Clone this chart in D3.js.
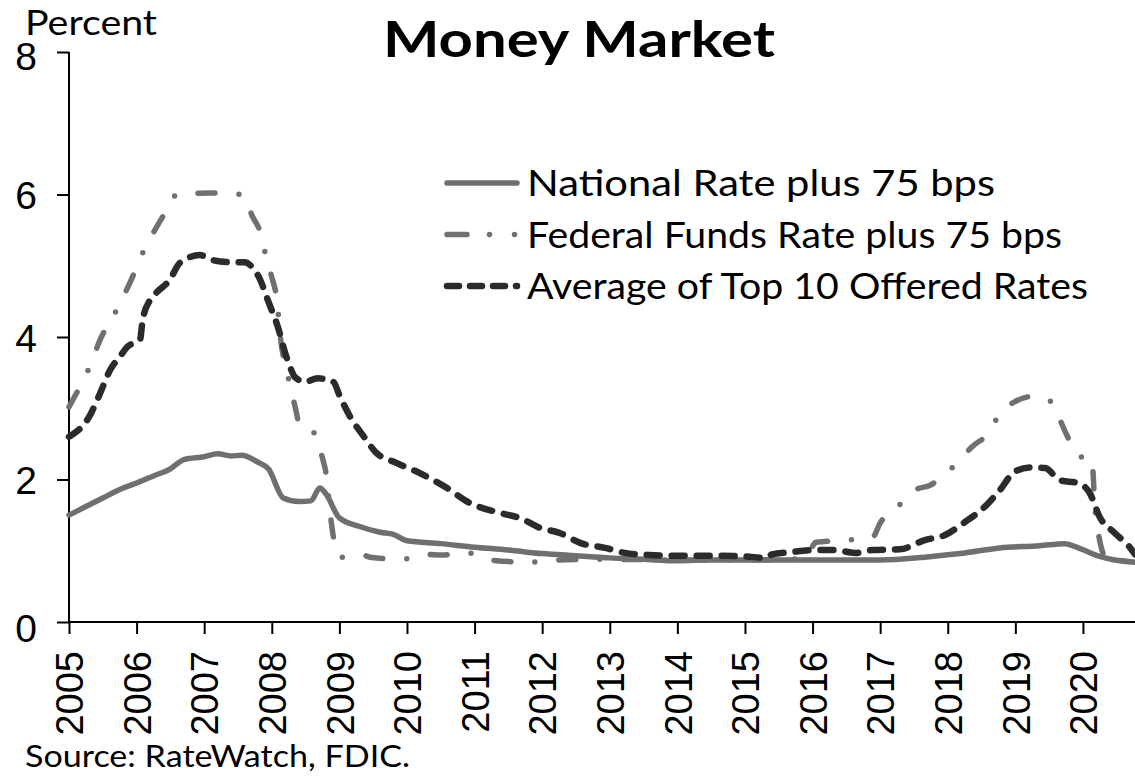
<!DOCTYPE html>
<html>
<head>
<meta charset="utf-8">
<script src="https://cdn.jsdelivr.net/npm/d3@7"></script>
<style>
  body { margin: 0; background: #fff; }
  svg { display: block; font-family: Lato, "Open Sans", sans-serif; }
</style>
</head>
<body>
<svg id="chart" width="1135" height="776"></svg>
<script>
// Series data, [decimal year, percent]
const nationalRate = [
  [2005.0, 1.50], [2005.25, 1.62], [2005.5, 1.74], [2005.75, 1.86], [2006.0, 1.95],
  [2006.25, 2.05], [2006.5, 2.15], [2006.7, 2.28], [2007.0, 2.32], [2007.2, 2.36],
  [2007.4, 2.33], [2007.55, 2.34], [2007.8, 2.24], [2007.95, 2.15], [2008.17, 1.74],
  [2008.4, 1.69], [2008.58, 1.70], [2008.71, 1.88], [2008.8, 1.80], [2009.0, 1.46],
  [2009.3, 1.34], [2009.6, 1.26], [2009.8, 1.23], [2010.0, 1.14], [2010.5, 1.10],
  [2011.0, 1.05], [2011.5, 1.01], [2012.0, 0.96], [2012.5, 0.93], [2013.0, 0.90],
  [2013.5, 0.88], [2014.0, 0.86], [2014.5, 0.87], [2015.0, 0.87], [2015.5, 0.87],
  [2016.0, 0.87], [2016.5, 0.87], [2017.0, 0.87], [2017.66, 0.91], [2018.18, 0.96],
  [2018.77, 1.04], [2019.36, 1.07], [2019.73, 1.10], [2019.96, 1.03], [2020.25, 0.92],
  [2020.47, 0.87], [2020.77, 0.84]
];

const fedFundsRate = [
  [2005.0, 3.02], [2005.16, 3.30], [2005.3, 3.57], [2005.46, 3.96], [2005.71, 4.39],
  [2005.9, 4.76], [2006.12, 5.24], [2006.3, 5.55], [2006.42, 5.74], [2006.6, 6.00],
  [2007.09, 6.02], [2007.56, 6.00], [2007.72, 5.68], [2007.83, 5.47], [2007.91, 5.15],
  [2008.0, 4.84], [2008.07, 4.56], [2008.14, 3.90], [2008.2, 3.60], [2008.27, 3.33],
  [2008.35, 3.00], [2008.42, 2.74], [2008.6, 2.68], [2008.75, 2.30], [2008.8, 2.10],
  [2008.88, 1.40], [2008.92, 1.15], [2009.02, 0.91], [2009.35, 0.94], [2009.45, 0.91],
  [2009.93, 0.88], [2010.27, 0.95], [2010.53, 0.94], [2010.89, 0.97], [2011.23, 0.87],
  [2011.82, 0.84], [2012.19, 0.87], [2013.0, 0.88], [2014.0, 0.87], [2015.0, 0.87],
  [2015.85, 0.89], [2015.95, 0.98], [2016.05, 1.12], [2016.52, 1.15], [2016.89, 1.19],
  [2017.0, 1.39], [2017.25, 1.61], [2017.51, 1.85], [2017.74, 1.92], [2017.97, 2.08],
  [2018.22, 2.32], [2018.36, 2.46], [2018.62, 2.67], [2018.77, 2.93], [2018.99, 3.09],
  [2019.29, 3.17], [2019.56, 3.07], [2019.66, 2.84], [2019.81, 2.53], [2019.96, 2.32],
  [2020.13, 2.30], [2020.18, 1.57], [2020.22, 1.29], [2020.33, 0.92], [2020.55, 0.86],
  [2020.77, 0.85]
];

const top10Rate = [
  [2005.0, 2.60], [2005.31, 2.90], [2005.46, 3.21], [2005.61, 3.54], [2005.75, 3.72],
  [2005.86, 3.86], [2006.05, 3.96], [2006.09, 4.24], [2006.2, 4.52], [2006.3, 4.63],
  [2006.49, 4.80], [2006.64, 5.04], [2006.94, 5.15], [2007.12, 5.08], [2007.38, 5.05],
  [2007.6, 5.05], [2007.71, 4.98], [2007.83, 4.80], [2007.94, 4.52], [2008.09, 4.14],
  [2008.2, 3.77], [2008.27, 3.58], [2008.34, 3.44], [2008.49, 3.37], [2008.68, 3.42],
  [2008.91, 3.37], [2009.01, 3.16], [2009.16, 2.88], [2009.38, 2.58], [2009.53, 2.39],
  [2009.85, 2.23], [2010.19, 2.09], [2010.56, 1.90], [2010.93, 1.67], [2011.38, 1.53],
  [2011.67, 1.46], [2011.97, 1.32], [2012.26, 1.25], [2012.56, 1.11], [2012.93, 1.04],
  [2013.22, 0.97], [2013.59, 0.94], [2014.0, 0.93], [2014.5, 0.93], [2015.0, 0.92],
  [2015.3, 0.90], [2015.4, 0.95], [2015.67, 0.98], [2016.04, 1.01], [2016.33, 1.01],
  [2016.63, 0.97], [2016.89, 1.01], [2017.29, 1.02], [2017.66, 1.15], [2017.96, 1.22],
  [2018.25, 1.40], [2018.55, 1.62], [2018.77, 1.85], [2018.99, 2.11], [2019.22, 2.17],
  [2019.44, 2.16], [2019.66, 1.99], [2019.93, 1.95], [2020.1, 1.81], [2020.25, 1.47],
  [2020.47, 1.25], [2020.7, 1.04], [2020.77, 0.95]
];

const yearTicks = d3.range(2005, 2021);
const percentTicks = [0, 2, 4, 6, 8];
const legendLabels = [
  'National Rate plus 75 bps',
  'Federal Funds Rate plus 75 bps',
  'Average of Top 10 Offered Rates'
];

const svg = d3.select('#chart');
const margin = { left: 69, right: 0, top: 52, bottom: 154 };
const width = 1135, height = 776;

const x = d3.scaleLinear()
  .domain([2005, 2020.77])
  .range([margin.left, width - margin.right]);

const y = d3.scaleLinear()
  .domain([0, 8])
  .range([height - margin.bottom, margin.top]);

// the reference text is a bit wider than Lato, so stretch to measured widths
function fitText(sel, w) {
  sel.attr('textLength', w).attr('lengthAdjust', 'spacingAndGlyphs');
}

// Axes
const yAxis = svg.append('g')
  .attr('transform', `translate(${margin.left},0)`)
  .call(d3.axisLeft(y).tickValues(percentTicks).tickSize(12).tickPadding(20).tickFormat(d3.format('d')));

yAxis.selectAll('text').attr('font-size', 39).attr('fill', '#000')
  .attr('dy', (d) => d === 0 ? '0.5em' : (d === 8 ? '0.45em' : '0.36em'));

const xAxis = svg.append('g')
  .attr('transform', `translate(0,${y(0)})`)
  .call(d3.axisBottom(x).tickValues(yearTicks).tickSize(12).tickFormat(d3.format('d')));

xAxis.selectAll('text')
  .attr('font-size', 38)
  .attr('fill', '#000')
  .attr('transform', 'rotate(-90)')
  .attr('text-anchor', 'end')
  .attr('x', -29)
  .attr('y', 0)
  .attr('dy', '0.36em');

svg.selectAll('.domain, .tick line').attr('stroke', '#000').attr('stroke-width', 2);
xAxis.select('.domain').attr('d', `M${x(2005)},0H${width}`);
yAxis.select('.domain').attr('d', `M0,${y(8)}V${y(0)}`);

// Lines
const line = d3.line()
  .x((d) => x(d[0]))
  .y((d) => y(d[1]))
  .curve(d3.curveMonotoneX);

const series = [
  { data: nationalRate, color: '#6f6f6f', width: 5.5, dash: null },
  { data: fedFundsRate, color: '#707070', width: 5.5, dash: '17 24 0 24' },
  { data: top10Rate, color: '#2b2b2b', width: 6.5, dash: '13 12' }
];

svg.append('g')
  .selectAll('path')
  .data(series)
  .join('path')
  .attr('d', (d) => line(d.data))
  .attr('fill', 'none')
  .attr('stroke', (d) => d.color)
  .attr('stroke-width', (d) => d.width)
  .attr('stroke-linecap', 'round')
  .attr('stroke-linejoin', 'round')
  .attr('stroke-dasharray', (d) => d.dash);

// Legend
const legendDash = [null, '20 22.5 0 25 0 200', '12 11'];
const legendWidths = [468, 535, 561];
const legend = svg.append('g');
legendLabels.forEach((label, i) => {
  const ly = 183 + i * 51.5;
  legend.append('line')
    .attr('x1', 447).attr('x2', 517)
    .attr('y1', ly).attr('y2', ly)
    .attr('stroke', series[i].color)
    .attr('stroke-width', series[i].width)
    .attr('stroke-linecap', 'round')
    .attr('stroke-dasharray', legendDash[i]);
  legend.append('text')
    .attr('x', 527).attr('y', ly + 13)
    .attr('font-size', 37)
    .text(label)
    .call(fitText, legendWidths[i]);
});

// Titles
svg.append('text')
  .attr('x', 383).attr('y', 57)
  .attr('font-size', 50)
  .attr('font-weight', 'bold')
  .text('Money Market')
  .call(fitText, 392);

svg.append('text')
  .attr('x', 25).attr('y', 35)
  .attr('font-size', 35)
  .text('Percent')
  .call(fitText, 132);

svg.append('text')
  .attr('x', 25).attr('y', 767)
  .attr('font-size', 31)
  .text('Source: RateWatch, FDIC.')
  .call(fitText, 385);
</script>
</body>
</html>
